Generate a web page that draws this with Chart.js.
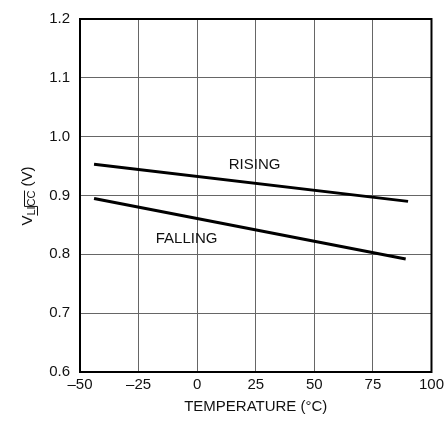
<!DOCTYPE html>
<html>
<head>
<meta charset="utf-8">
<script src="https://cdn.jsdelivr.net/npm/chart.js@4"></script>
<style>
  html, body { margin: 0; padding: 0; background: #fff; }
  #wrap { width: 448px; height: 423px; }
</style>
</head>
<body>
<div id="wrap"><canvas id="vChart" width="448" height="423"></canvas></div>
<script>
// temperature (°C) and threshold voltage (V)
const risingTemp = [-44, 90];
const risingVolt = [0.953, 0.890];
const fallingTemp = [-44, 89];
const fallingVolt = [0.895, 0.792];

// curve labels: [text, temperature, voltage]
const curveLabels = [
  ['RISING', 24.5, 0.952],
  ['FALLING', -4.5, 0.826]
];

const FONT = "'Liberation Sans', Arial, sans-serif";

const toPoints = (xs, ys) => xs.map((x, i) => ({ x: x, y: ys[i] }));

// frame, curve labels and y title
const extras = {
  id: 'extras',
  afterDraw(chart) {
    const ctx = chart.ctx;
    const a = chart.chartArea;
    const xs = chart.scales.x, ys = chart.scales.y;
    ctx.save();
    ctx.strokeStyle = '#000';
    ctx.lineWidth = 2;
    ctx.strokeRect(a.left, a.top, a.right - a.left, a.bottom - a.top);

    ctx.fillStyle = '#111';
    ctx.font = '15px ' + FONT;
    ctx.textAlign = 'center';
    ctx.textBaseline = 'middle';
    curveLabels.forEach(l => {
      ctx.fillText(l[0], xs.getPixelForValue(l[1]), ys.getPixelForValue(l[2]));
    });

    // y title: V with subscript LI/CC (CC overlined)
    ctx.translate(27, 196);
    ctx.rotate(-Math.PI / 2);
    ctx.textAlign = 'left';
    ctx.textBaseline = 'alphabetic';
    ctx.strokeStyle = '#111';
    const big = '15px ' + FONT, small = '11px ' + FONT;
    const parts = [['V', big, 0], ['LI', small, 3, 'under'], ['CC', small, 3, 'over'], [' (V)', big, 0]];
    let total = 0;
    parts.forEach(p => { ctx.font = p[1]; total += ctx.measureText(p[0]).width; });
    let x = -total / 2;
    parts.forEach(p => {
      ctx.font = p[1];
      const w = ctx.measureText(p[0]).width;
      ctx.fillText(p[0], x, 5 + p[2]);
      ctx.lineWidth = 1;
      if (p[3] === 'under') {
        ctx.beginPath();
        ctx.moveTo(x, 10.5);
        ctx.lineTo(x + w, 10.5);
        ctx.lineTo(x + w, -2.5);
        ctx.stroke();
      }
      if (p[3] === 'over') {
        ctx.beginPath();
        ctx.moveTo(x, -2.5);
        ctx.lineTo(x + w, -2.5);
        ctx.stroke();
      }
      x += w;
    });
    ctx.restore();
  }
};

new Chart(document.getElementById('vChart'), {
  type: 'scatter',
  data: {
    datasets: [
      {
        label: 'RISING',
        data: toPoints(risingTemp, risingVolt),
        showLine: true,
        borderColor: '#000',
        borderWidth: 3,
        pointRadius: 0
      },
      {
        label: 'FALLING',
        data: toPoints(fallingTemp, fallingVolt),
        showLine: true,
        borderColor: '#000',
        borderWidth: 3,
        pointRadius: 0
      }
    ]
  },
  options: {
    responsive: false,
    animation: false,
    layout: { padding: { left: 0, right: 16, top: 19, bottom: 0 } },
    plugins: { legend: { display: false }, tooltip: { enabled: false } },
    scales: {
      x: {
        type: 'linear',
        min: -50,
        max: 100,
        ticks: {
          stepSize: 25,
          color: '#111',
          padding: 4,
          font: { family: FONT, size: 15 },
          callback: v => String(v).replace('-', '\u2013')
        },
        grid: { color: '#666', lineWidth: 1, drawTicks: false },
        border: { color: '#000', width: 2 },
        title: {
          display: true,
          text: 'TEMPERATURE (\u00B0C)',
          color: '#111',
          font: { family: FONT, size: 15 },
          padding: { top: 0, bottom: 7 }
        },
        afterFit: s => { s.height = 51; }
      },
      y: {
        min: 0.6,
        max: 1.2,
        ticks: {
          stepSize: 0.1,
          color: '#111',
          padding: 10,
          font: { family: FONT, size: 15 },
          callback: v => v.toFixed(1)
        },
        grid: { color: '#666', lineWidth: 1, drawTicks: false },
        border: { color: '#000', width: 2 },
        afterFit: s => { s.width = 80; }
      }
    }
  },
  plugins: [extras]
});
</script>
</body>
</html>
